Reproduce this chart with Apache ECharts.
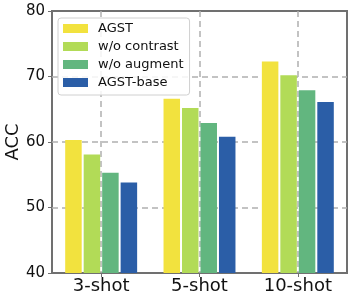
<!DOCTYPE html>
<html>
<head>
<meta charset="utf-8">
<script src="https://cdn.jsdelivr.net/npm/echarts@6/dist/echarts.min.js"></script>
<style>html,body{margin:0;padding:0;background:#fff;}#c{width:353px;height:300px;}</style>
</head>
<body>
<div id="c"></div>
<script>
var categories = ['3-shot', '5-shot', '10-shot'];
var seriesNames = ['AGST', 'w/o contrast', 'w/o augment', 'AGST-base'];
var agst = [60.3, 66.6, 72.3];
var woContrast = [58.1, 65.2, 70.2];
var woAugment = [55.3, 62.9, 67.9];
var agstBase = [53.8, 60.8, 66.1];
var yTicks = [40, 50, 60, 70, 80];

var colors = ['#f2e23e', '#b2db57', '#62b67f', '#2b5ea7'];
var values = [agst, woContrast, woAugment, agstBase];
var font = 'DejaVu Sans';
var dashStyle = {color: '#b0b0b0', width: 1.5, type: [6, 4]};

var chart = echarts.init(document.getElementById('c'), null, {renderer: 'canvas'});
chart.setOption({
  animation: false,
  textStyle: {fontFamily: font},
  color: colors,
  grid: {left: 52, right: 6, top: 11, bottom: 27, outerBoundsMode: 'none', containLabel: false,
         show: true, borderColor: '#707070', borderWidth: 2, backgroundColor: 'transparent'},
  legend: {
    orient: 'vertical', left: 58, top: 18,
    data: seriesNames,
    icon: 'rect', itemWidth: 25, itemHeight: 9, itemGap: 5,
    padding: [4, 6, 6, 5],
    backgroundColor: 'rgba(255,255,255,0.85)',
    borderColor: '#d0d0d0', borderWidth: 1, borderRadius: 3,
    textStyle: {fontFamily: font, fontSize: 13, color: '#111', padding: [0, 0, 0, 5]}
  },
  xAxis: [{
    type: 'category', data: categories,
    axisLine: {show: false},
    axisTick: {show: true, alignWithLabel: true, length: 4, lineStyle: {color: '#707070', width: 1}},
    axisLabel: {fontFamily: font, fontSize: 18, color: '#111', margin: 4},
    splitLine: {show: false}
  }, {
    type: 'category', data: ['', '', '', '', '', '', ''], boundaryGap: false,
    position: 'bottom', axisLine: {show: false}, axisTick: {show: false}, axisLabel: {show: false},
    splitLine: {show: true, interval: function (i) { return i % 2 === 1; }, lineStyle: dashStyle}
  }],
  yAxis: {
    type: 'value', min: yTicks[0], max: yTicks[yTicks.length - 1], interval: 10,
    name: 'ACC', nameLocation: 'middle', nameGap: 30, nameRotate: 90, nameMoveOverlap: false,
    nameTextStyle: {fontFamily: font, fontSize: 18, color: '#111'},
    axisLine: {show: false},
    axisTick: {show: true, length: 4, lineStyle: {color: '#707070', width: 1}},
    axisLabel: {fontFamily: font, fontSize: 15, color: '#111', margin: 7},
    splitLine: {show: true, showMinLine: false, showMaxLine: false, lineStyle: dashStyle}
  },
  series: seriesNames.map(function (n, i) {
    return {
      name: n, type: 'bar', xAxisIndex: 0, data: values[i],
      barWidth: 16.5, barGap: '12%',
      itemStyle: {color: colors[i]}
    };
  })
});
</script>
</body>
</html>
